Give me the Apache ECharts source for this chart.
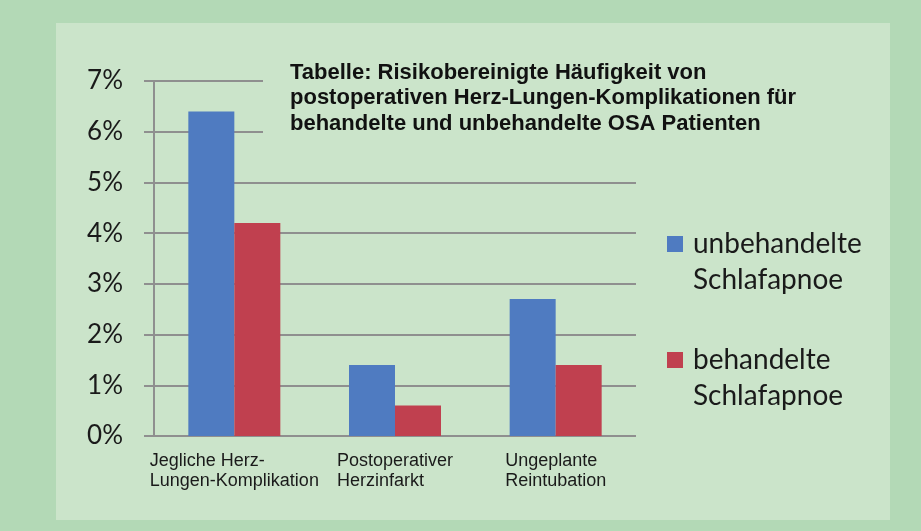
<!DOCTYPE html>
<html><head><meta charset="utf-8">
<script src="https://cdn.jsdelivr.net/npm/echarts@6/dist/echarts.min.js"></script>
<style>html,body{margin:0;padding:0;background:#b3d9b6}#c{width:921px;height:531px}</style>
</head><body><div id="c"></div>
<script>
const categories = ['Jegliche Herz-\nLungen-Komplikation', 'Postoperativer\nHerzinfarkt', 'Ungeplante\nReintubation'];
const seriesNames = ['unbehandelte\nSchlafapnoe', 'behandelte\nSchlafapnoe'];
const untreated = [6.4, 1.4, 2.7];
const treated = [4.2, 0.6, 1.4];
const yTicks = [0, 1, 2, 3, 4, 5, 6, 7];
const titleText = 'Tabelle: Risikobereinigte Häufigkeit von\npostoperativen Herz-Lungen-Komplikationen für\nbehandelte und unbehandelte OSA Patienten';

const panel = '#cbe4ca';
const chart = echarts.init(document.getElementById('c'));
const L = 36;
chart.setOption({
  backgroundColor: '#b3d9b6',
  animation: false,
  graphic: [{type: 'rect', z: -10, shape: {x: 56, y: 23, width: 834, height: 497}, style: {fill: panel}}],
  title: {
    text: titleText, left: 263, top: 56, z: 10,
    backgroundColor: panel, padding: [4, 10, 14, 27],
    textStyle: {fontFamily: 'Liberation Sans', fontWeight: 'bold', fontSize: 22, lineHeight: 25.5, color: '#111'}
  },
  legend: {
    orient: 'vertical', left: 667, top: 190, padding: 0, itemWidth: 16, itemHeight: 16, itemGap: 8,
    icon: 'rect',
    formatter: n => ' \n' + n,
    textStyle: {fontFamily: 'Lato', fontSize: 28, lineHeight: L, color: '#1a1a1a', padding: [0, 0, 0, 5]},
    data: seriesNames
  },
  grid: {left: 154, right: 285, top: 81, bottom: 95, containLabel: false},
  xAxis: {
    type: 'category', data: categories,
    axisLine: {show: false}, axisTick: {show: false},
    axisLabel: {
      interval: 0, margin: 15, color: '#1a1a1a',
      formatter: v => v.split('\n').map(s => '{a|' + s + '}').join('\n'),
      rich: {a: {align: 'left', fontFamily: 'Liberation Sans', fontSize: 18, lineHeight: 20, color: '#1a1a1a'}}
    }
  },
  yAxis: {
    type: 'value', min: yTicks[0], max: yTicks[yTicks.length - 1], interval: 1,
    axisLine: {show: true, lineStyle: {color: '#8f8f8f', width: 2}},
    axisTick: {show: true, length: 10, lineStyle: {color: '#8f8f8f', width: 2}},
    splitLine: {lineStyle: {color: '#8f8f8f', width: 2}},
    axisLabel: {formatter: v => v + '%', fontFamily: 'Lato', fontSize: 26, color: '#1a1a1a', margin: 31}
  },
  series: [
    {name: seriesNames[0], type: 'bar', data: untreated, barWidth: 46, barGap: '0%', itemStyle: {color: '#4f7bc1'}},
    {name: seriesNames[1], type: 'bar', data: treated, barWidth: 46, barGap: '0%', itemStyle: {color: '#c0404f'}}
  ]
});
</script></body></html>
